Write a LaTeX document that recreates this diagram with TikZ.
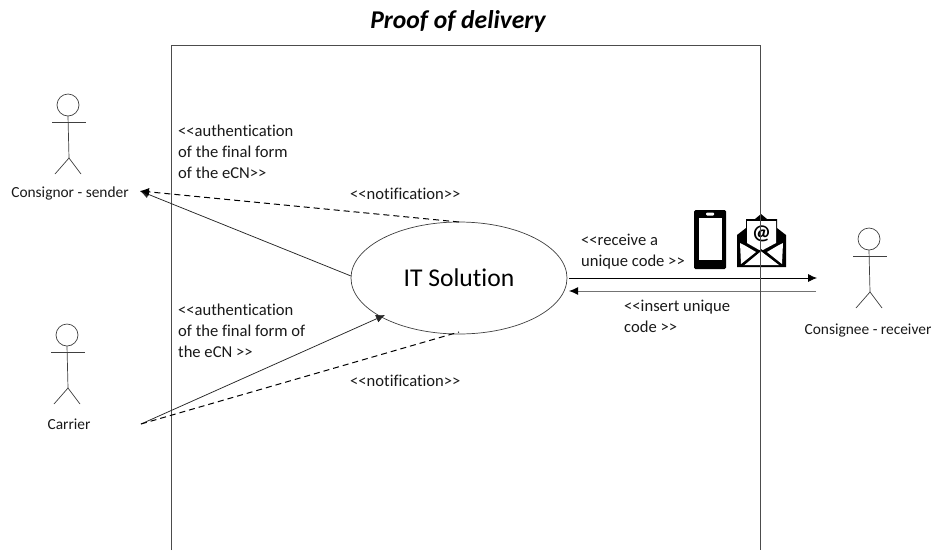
\documentclass[tikz,border=0pt]{standalone}
\usepackage{fontspec}
\usetikzlibrary{arrows.meta}
\setmainfont{Carlito}[Ligatures=NoCommon]
\newcommand{\lsh}{<{}<}
\newcommand{\rsh}{>{}>}
\begin{document}
\begin{tikzpicture}[x=1pt,y=-1pt,
  thinline/.style={draw=black!75,line width=0.7pt},
  lbl/.style={inner sep=0pt,align=left,anchor=north west,font=\fontsize{16.6}{20.7}\selectfont,text=black!90},
  actorlbl/.style={inner sep=0pt,anchor=center,font=\fontsize{15.4}{20}\selectfont,text=black!90},
  arr/.style={draw=black!85,line width=0.75pt,-{Latex[length=9pt,width=8pt]}},
  dsh/.style={draw=black,line width=1pt,dash pattern=on 6pt off 4pt},
]
\useasboundingbox (0,0) rectangle (932,550);
% frame
\coordinate (fa) at (171,550);\coordinate (fb) at (171,45);\coordinate (fc) at (760,45);\coordinate (fd) at (760,550);
\draw[draw=black!70,line width=0.8pt] (fa) -- (fb) -- (fc) -- (fd);
\node[inner sep=0pt,font=\fontsize{25.6}{28}\selectfont\bfseries\itshape] (title) at (458,22) {Proof of delivery};
% ellipse
\draw[thinline,fill=white] (459,278) ellipse [x radius=108, y radius=56];
\coordinate (el) at (351,276);
\coordinate (et) at (459,222);
\coordinate (eb) at (459,332);
\coordinate (ea) at (385,315);
\coordinate (er1) at (569,278);
\coordinate (er2) at (569,291);
\node[inner sep=0pt,font=\fontsize{25.6}{28}\selectfont] (it) at (459,278) {IT Solution};
% actors
\foreach \hx/\hy/\n in {68/105/a,67/335/b,869/239/c}{
  \begin{scope}[shift={(\hx,\hy)}]
    \draw[thinline] (0,0) circle [radius=11];
    \draw[thinline] (0,11) -- (1,53);
    \draw[thinline] (-16,17.5) -- (18,17.5);
    \draw[thinline] (-13,69) -- (1,53) -- (13,69);
  \end{scope}
}
\node[actorlbl] (cons) at (70,193) {Consignor - sender};
\node[actorlbl] (carr) at (69,424) {Carrier};
\node[actorlbl] (recv) at (868,331) {Consignee - receiver};
\coordinate (consp) at (140,191);
\coordinate (carrp) at (141,424);
\coordinate (rp1) at (817,278);
\coordinate (rp2) at (816,291);
% connectors
\draw[arr] (el) -- (consp);
\draw[dsh,-{Latex[length=9pt,width=8pt]}] (et) -- (consp);
\draw[arr] (carrp) -- (ea);
\draw[dsh] (carrp) -- (eb);
\draw[arr,draw=black] (er1) -- (rp1);
\draw[draw=black!55,line width=1pt,-{Latex[length=9pt,width=8pt,black]}] (rp2) -- (er2);
% labels
\node[lbl] (l1) at (178,125) {\lsh authentication\\of the final form\\of the eCN\rsh};
\node[lbl] (l2) at (350,188) {\lsh notification\rsh};
\node[lbl] (l3) at (178,304) {\lsh authentication\\of the final form of\\the eCN \rsh};
\node[lbl] (l4) at (350,375) {\lsh notification\rsh};
\node[lbl] (l5) at (581,234) {\lsh receive a\\unique code \rsh};
\node[lbl] (l6) at (624,300) {\lsh insert unique\\code \rsh};
% phone
\fill[black,rounded corners=1.5pt] (694,210) rectangle (726,269);
\fill[white] (698.5,218) rectangle (721.5,260);
\fill[white,rounded corners=1pt] (706,212.5) rectangle (714,215.5);
% envelope
\fill[black] (737,235) -- (746,228) -- (746,219) -- (755,219) -- (761,214) -- (767,219) -- (777,219) -- (777,228) -- (786,235) -- (786,267) -- (737,267) -- cycle;
\fill[white] (747,221) -- (776,221) -- (776,243) -- (761,251) -- (747,243) -- cycle;
\fill[white] (740,243) -- (744,245) -- (756,252) -- (741,264) -- cycle;
\fill[white] (783,243) -- (779,245) -- (767,252) -- (782,264) -- cycle;
\fill[white] (761,251) -- (779,265) -- (743,265) -- cycle;
\draw[black,line width=1.6pt] (743,265) -- (761,250) -- (781,265);
\node[inner sep=0pt,font=\fontsize{21}{21}\selectfont\bfseries] (at) at (761.5,234) {@};
\draw[draw=black!70,line width=0.8pt] (fc) -- (fd);
\end{tikzpicture}
\end{document}
